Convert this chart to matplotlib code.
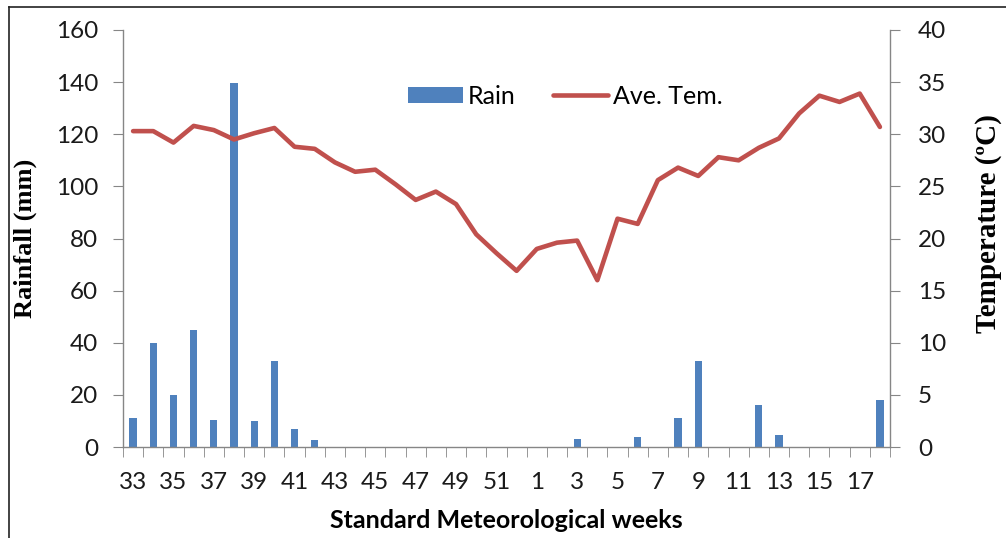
import matplotlib
matplotlib.use('Agg')
import matplotlib.pyplot as plt
from matplotlib.lines import Line2D
import numpy as np

# Standard meteorological weeks (33..52 then 1..18)
weeks = list(range(33, 53)) + list(range(1, 19))

rain = [11, 40, 20, 45, 10.5, 139.5, 10, 33, 7, 2.5,
        0, 0, 0, 0, 0, 0, 0, 0, 0, 0,
        0, 0, 3, 0, 0, 4, 0, 11, 33, 0,
        0, 16, 4.5, 0, 0, 0, 0, 18]

ave_temp = [30.3, 30.3, 29.2, 30.8, 30.4, 29.5, 30.1, 30.6, 28.8, 28.6,
            27.3, 26.4, 26.6, 25.2, 23.7, 24.5, 23.3, 20.4, 18.6, 16.9,
            19.0, 19.6, 19.8, 16.0, 21.9, 21.4, 25.6, 26.8, 26.0, 27.8,
            27.5, 28.7, 29.6, 32.0, 33.7, 33.1, 33.9, 30.7]

rain_color = '#4F81BD'
temp_color = '#C0504D'
axis_gray = '#868686'
sans = ['Lato', 'DejaVu Sans']
serif = ['Liberation Serif', 'DejaVu Serif']

x = np.arange(len(weeks))

fig = plt.figure(figsize=(10.06, 5.38), dpi=100)
ax = fig.add_axes([123 / 1006, 1 - 447 / 538, (890 - 123) / 1006, (447 - 30) / 538])
ax2 = ax.twinx()

bars = ax.bar(x, rain, width=0.36, color=rain_color, label='Rain', zorder=2)
line, = ax2.plot(x, ave_temp, color=temp_color, linewidth=3.3, label='Ave. Tem.',
                 solid_capstyle='round', solid_joinstyle='round')

ax.set_xlim(-0.5, len(weeks) - 0.5)
ax.set_ylim(0, 160)
ax2.set_ylim(0, 40)
ax.set_yticks(np.arange(0, 161, 20))
ax2.set_yticks(np.arange(0, 41, 5))

# labels every other week, tick marks on category boundaries
ax.set_xticks(x[::2])
ax.set_xticklabels([str(w) for w in weeks[::2]])
ax.set_xticks(np.arange(-0.5, len(weeks), 1), minor=True)
ax.tick_params(axis='x', which='major', length=0, pad=18)
ax.tick_params(axis='x', which='minor', length=7, color=axis_gray, direction='out')
ax.tick_params(axis='y', length=7, color=axis_gray, pad=11)
ax2.tick_params(axis='y', length=7, color=axis_gray, pad=13)

for a in (ax, ax2):
    a.spines['top'].set_visible(False)
    for s in ('left', 'right', 'bottom'):
        a.spines[s].set_color(axis_gray)
        a.spines[s].set_linewidth(1)
ax.spines['right'].set_visible(False)
ax2.spines['left'].set_visible(False)
ax2.spines['bottom'].set_visible(False)
ax2.set_zorder(ax.get_zorder() + 1)
ax2.patch.set_visible(False)

for lab in ax.get_xticklabels() + ax.get_yticklabels() + ax2.get_yticklabels():
    lab.set_family(sans)
    lab.set_fontsize(17.5)
    lab.set_color('#1a1a1a')

fig.text(506 / 1006, 1 - 521 / 538, 'Standard Meteorological weeks', ha='center', va='center',
         family=sans, fontweight='bold', fontsize=18)
fig.text(25 / 1006, 1 - 238 / 538, 'Rainfall (mm)', rotation=90, ha='center', va='center',
         family=serif, fontweight='bold', fontsize=19)
fig.text(988 / 1006, 1 - 224 / 538, 'Temperature (ºC)', rotation=90, ha='center', va='center',
         family=serif, fontweight='bold', fontsize=21)

leg = fig.legend([bars, line], ['Rain', 'Ave. Tem.'], loc='center', ncol=2,
                 bbox_to_anchor=(565 / 1006, 1 - 96 / 538), frameon=False,
                 prop={'family': sans, 'size': 18}, handlelength=2.2, handleheight=0.6,
                 handletextpad=0.2, columnspacing=1.5)

# outer frame (left and top edges only visible in the reference)
fig.add_artist(Line2D([9 / 1006, 9 / 1006], [0, 1 - 7 / 538], transform=fig.transFigure,
                      color='#222222', linewidth=1.2))
fig.add_artist(Line2D([9 / 1006, 1], [1 - 7 / 538, 1 - 7 / 538], transform=fig.transFigure,
                      color='#222222', linewidth=1.2))

fig.savefig('out.png', dpi=100, facecolor='white')
